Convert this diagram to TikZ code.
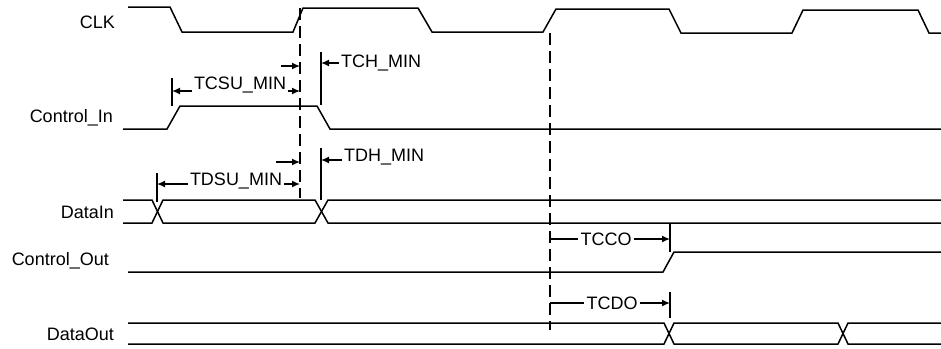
\documentclass[tikz,border=0pt]{standalone}
\usepackage{fontspec}
\setmainfont{Liberation Sans}
\usetikzlibrary{arrows.meta}
\begin{document}
\begin{tikzpicture}[x=1pt,y=-1pt,
 sig/.style={line width=1.5pt, line join=miter},
 lbl/.style={anchor=east, inner sep=0pt, font=\fontsize{18}{21}\selectfont},
 tlbl/.style={inner xsep=2pt, inner ysep=0pt, font=\fontsize{18}{21}\selectfont},
 bar/.style={line width=1.4pt},
 meas/.style={line width=1.4pt},
 tip/.style={-{Latex[length=8pt,width=7pt]}},
 guide/.style={line width=1.9pt, dash pattern=on 12pt off 6pt}]
\useasboundingbox (0,0) rectangle (941,348);

% signal labels
\node[lbl] (lclk) at (115,22) {CLK};
\node[lbl] (lcin) at (113,118) {Control\_In};
\node[lbl] (ldin) at (114,212) {DataIn};
\node[lbl] (lcout) at (109,261) {Control\_Out};
\node[lbl] (ldout) at (114,334) {DataOut};

% waveforms
\draw[sig] (128,7) -- (170,7) -- (182,32) -- (293,32) -- (303,8) -- (418,8) -- (432,32) -- (543,32) -- (556,9) -- (669,9) -- (681,33) -- (792,33) -- (803,10) -- (918,10) -- (929,33) -- (941,33);
\draw[sig] (123,129) -- (167,129) -- (180,106) -- (317,106) -- (330,129) -- (941,129);
\draw[sig] (123,200) -- (152,200) -- (163,223) -- (315,223) -- (328,200) -- (941,200);
\draw[sig] (123,223) -- (152,223) -- (163,200) -- (315,200) -- (328,223) -- (941,223);
\draw[sig] (128,272) -- (663,272) -- (674,252) -- (941,252);
\draw[sig] (128,323) -- (664,323) -- (674,344) -- (838,344) -- (848,323) -- (941,323);
\draw[sig] (128,344) -- (664,344) -- (674,323) -- (838,323) -- (848,344) -- (941,344);

% guide lines
\draw[guide] (300,8) -- (300,198);
\draw[guide] (550,33) -- (550,330);

% coordinates
\coordinate (csuL) at (172,91);
\coordinate (csuR) at (300,91);
\coordinate (csuS) at (281,66);
\coordinate (csuT) at (300,66);
\coordinate (chB) at (321,63);
\coordinate (dsuL) at (157,184);
\coordinate (dsuR) at (300,184);
\coordinate (dsuS) at (276,162);
\coordinate (dsuT) at (300,162);
\coordinate (dhB) at (321,160);
\coordinate (ccoL) at (550,239);
\coordinate (ccoR) at (670,239);
\coordinate (cdoL) at (550,303);
\coordinate (cdoR) at (670,303);

% bars
\draw[bar] (172,78) -- (172,106);
\draw[bar] (321,52) -- (321,105);
\draw[bar] (157,173) -- (157,202);
\draw[bar] (321,148) -- (321,200);
\draw[bar] (670,224) -- (670,252);
\draw[bar] (670,292) -- (670,318);

% timing labels
\node[tlbl] (tcsu) at (240,85) {TCSU\_MIN};
\node[tlbl, anchor=west] (tch) at (339,63) {TCH\_MIN};
\node[tlbl] (tdsu) at (236,181) {TDSU\_MIN};
\node[tlbl, anchor=west] (tdh) at (342,157) {TDH\_MIN};
\node[tlbl] (tcco) at (606,239) {TCCO};
\node[tlbl] (tcdo) at (612,303) {TCDO};

% timing arrows
\draw[meas,tip] (tcsu.west |- csuL) -- (csuL);
\draw[meas,tip] (tcsu.east |- csuR) -- (csuR);
\draw[meas,tip] (csuS) -- (csuT);
\draw[meas,tip] (tch.west |- chB) -- (chB);
\draw[meas,tip] (tdsu.west |- dsuL) -- (dsuL);
\draw[meas,tip] (tdsu.east |- dsuR) -- (dsuR);
\draw[meas,tip] (dsuS) -- (dsuT);
\draw[meas,tip] (tdh.west |- dhB) -- (dhB);
\draw[meas] (ccoL) -- (tcco.west |- ccoL);
\draw[meas,tip] (tcco.east |- ccoR) -- (ccoR);
\draw[meas] (cdoL) -- (tcdo.west |- cdoL);
\draw[meas,tip] (tcdo.east |- cdoR) -- (cdoR);
\end{tikzpicture}
\end{document}
